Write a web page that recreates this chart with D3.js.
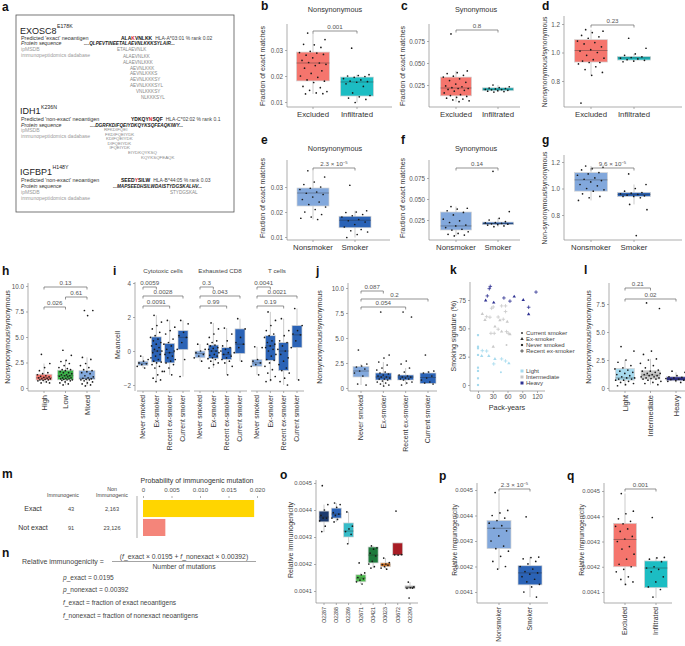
<!DOCTYPE html>
<html lang="en">
<head>
<meta charset="UTF-8">
<title>Neoantigen matches and immunogenicity</title>
<script src="https://d3js.org/d3.v7.min.js"></script>
<style>
  body { margin: 0; background: #fff; }
  svg { display: block; }
</style>
</head>
<body>
<svg id="fig" width="685" height="646"></svg>
<script>
// ---------- data ----------
// box stats are [lower whisker, q1, median, q3, upper whisker]
const tumourCats = ["Excluded", "Infiltrated"];
const smokeCats = ["Nonsmoker", "Smoker"];

const bStats = [[0.0131, 0.0181, 0.025, 0.0292, 0.0365], [0.0098, 0.0123, 0.0177, 0.0196, 0.0205]];
const bExcl = [0.0365, 0.034, 0.032, 0.0322, 0.031, 0.0295, 0.029, 0.0288, 0.028, 0.0283, 0.027, 0.026, 0.025, 0.0252, 0.0245, 0.024, 0.023, 0.022, 0.021, 0.020, 0.0195, 0.0185, 0.018, 0.0175, 0.016, 0.0155, 0.0145, 0.014, 0.0135, 0.0131, 0.0132];
const bInf = [0.0307, 0.0205, 0.0202, 0.0200, 0.0198, 0.0195, 0.019, 0.0185, 0.018, 0.0178, 0.0176, 0.017, 0.016, 0.0135, 0.0125, 0.012, 0.0115, 0.011, 0.0098];

const cStats = [[0.006, 0.0127, 0.0216, 0.034, 0.041], [0.017, 0.0185, 0.0203, 0.0218, 0.025]];
const cExcl = [0.083, 0.041, 0.039, 0.038, 0.036, 0.035, 0.034, 0.032, 0.030, 0.028, 0.026, 0.024, 0.023, 0.022, 0.021, 0.021, 0.020, 0.019, 0.018, 0.016, 0.014, 0.013, 0.012, 0.011, 0.010, 0.009, 0.008, 0.007, 0.006];
const cInf = [0.025, 0.023, 0.022, 0.0215, 0.021, 0.0205, 0.020, 0.0198, 0.0195, 0.019, 0.0185, 0.018, 0.0175, 0.017];

const dStats = [[0.84, 0.933, 1.014, 1.09, 1.16], [0.935, 0.947, 0.962, 0.972, 0.99]];
const dExcl = [1.16, 1.15, 1.14, 1.12, 1.11, 1.10, 1.08, 1.07, 1.06, 1.04, 1.02, 1.01, 1.00, 0.98, 0.96, 0.95, 0.94, 0.93, 0.93, 0.92, 0.90, 0.88, 0.86, 0.84, 0.645];
const dInf = [1.10, 1.03, 0.99, 0.98, 0.97, 0.965, 0.96, 0.955, 0.95, 0.945, 0.94, 0.935];

const eStats = [[0.017, 0.0224, 0.0276, 0.0296, 0.0365], [0.0098, 0.0137, 0.0167, 0.0183, 0.0205]];
const eNon = [0.0365, 0.034, 0.032, 0.031, 0.030, 0.0295, 0.029, 0.028, 0.0275, 0.027, 0.026, 0.025, 0.024, 0.023, 0.022, 0.021, 0.020, 0.019, 0.018, 0.0175, 0.017];
const eSmk = [0.0307, 0.0205, 0.020, 0.0198, 0.019, 0.0185, 0.018, 0.017, 0.0165, 0.016, 0.015, 0.014, 0.013, 0.0125, 0.012, 0.011, 0.0098];

const fStats = [[0.006, 0.0131, 0.0179, 0.0345, 0.041], [0.017, 0.0195, 0.0207, 0.0225, 0.027]];
const fNon = [0.041, 0.039, 0.038, 0.036, 0.034, 0.031, 0.026, 0.024, 0.022, 0.019, 0.018, 0.016, 0.014, 0.013, 0.011, 0.009, 0.008, 0.007, 0.006];
const fSmk = [0.083, 0.035, 0.027, 0.025, 0.023, 0.022, 0.0215, 0.021, 0.0205, 0.020, 0.0195, 0.019, 0.018, 0.017];

const gStats = [[0.91, 0.98, 1.065, 1.12, 1.17], [0.88, 0.94, 0.955, 0.97, 1.03]];
const gNon = [1.17, 1.16, 1.15, 1.14, 1.12, 1.11, 1.10, 1.08, 1.07, 1.06, 1.05, 1.03, 1.02, 1.00, 0.99, 0.98, 0.96, 0.94, 0.93, 0.91];
const gSmk = [1.11, 1.03, 1.00, 0.98, 0.97, 0.965, 0.96, 0.955, 0.95, 0.945, 0.94, 0.94, 0.93, 0.88, 0.84, 0.645];

const hCats = ["High", "Low", "Mixed"];
const hStats = [[0.5, 0.78, 1.0, 1.35, 2.4], [0.3, 0.8, 1.2, 1.75, 2.7], [0.2, 0.85, 0.95, 1.7, 3.0]];
const hHigh = [3.3, 2.4, 2.0, 1.7, 1.5, 1.4, 1.3, 1.2, 1.15, 1.1, 1.05, 1.0, 0.95, 0.9, 0.9, 0.85, 0.8, 0.8, 0.75, 0.7, 0.6, 0.5, 0.5];
const hLow = [3.7, 3.2, 2.7, 2.6, 2.4, 2.2, 2.0, 1.9, 1.8, 1.8, 1.7, 1.6, 1.5, 1.5, 1.4, 1.3, 1.3, 1.2, 1.2, 1.15, 1.1, 1.0, 1.0, 0.95, 0.9, 0.9, 0.85, 0.8, 0.8, 0.75, 0.7, 0.6, 0.5, 0.4, 0.3];
const hMix = [7.6, 7.6, 7.1, 3.0, 2.8, 2.4, 2.2, 2.0, 1.8, 1.7, 1.6, 1.5, 1.4, 1.2, 1.1, 1.0, 0.95, 0.9, 0.85, 0.8, 0.8, 0.7, 0.6, 0.5, 0.4, 0.3, 0.2];

const statusCats = ["Never smoked", "Ex-smoker", "Recent ex-smoker", "Current smoker"];
const iFacets = ["Cytotoxic cells", "Exhausted CD8", "T cells"];
const iStats = [
  [[-1.0, -0.85, -0.72, -0.6, -0.3], [-1.8, -0.65, 0.0, 0.83, 2.1], [-1.4, -0.7, -0.1, 0.45, 1.8], [-1.5, 0.08, 0.8, 1.2, 1.8]],
  [[-0.6, -0.4, -0.15, 0.0, 0.4], [-1.0, -0.45, 0.0, 0.35, 1.65], [-1.4, -0.5, -0.2, 0.2, 1.35], [-0.6, -0.15, 0.4, 1.3, 1.9]],
  [[-1.4, -0.9, -0.7, -0.5, 0.25], [-1.8, -0.55, 0.3, 0.9, 2.3], [-2.0, -1.15, 0.0, 0.5, 1.9], [-1.7, 0.2, 0.95, 1.5, 2.5]]
];
const iCyto = [
  [-0.3, -0.5, -0.6, -0.7, -0.75, -0.8, -0.9, -1.0],
  [2.1, 1.7, 1.5, 1.3, 1.1, 0.9, 0.8, 0.7, 0.6, 0.5, 0.4, 0.3, 0.2, 0.1, 0.0, 0.0, -0.1, -0.2, -0.3, -0.4, -0.5, -0.6, -0.65, -0.7, -0.8, -0.9, -1.0, -1.2, -1.4, -1.6, -1.7, -1.8],
  [1.8, 1.4, 1.2, 1.0, 0.7, 0.5, 0.4, 0.3, 0.1, 0.0, -0.1, -0.2, -0.3, -0.4, -0.5, -0.6, -0.7, -0.8, -1.0, -1.2, -1.4],
  [1.8, 1.6, 1.1, 0.9, 0.8, 0.5, 0.1, -0.5, -1.5]
];
const iExh = [
  [0.4, 0.1, 0.0, -0.1, -0.2, -0.3, -0.4, -0.6],
  [1.65, 1.3, 1.0, 0.8, 0.6, 0.5, 0.4, 0.35, 0.3, 0.2, 0.15, 0.1, 0.0, 0.0, -0.1, -0.2, -0.25, -0.3, -0.4, -0.45, -0.5, -0.6, -0.7, -0.8, -1.0],
  [1.35, 1.0, 0.6, 0.3, 0.2, 0.1, 0.0, -0.1, -0.2, -0.3, -0.4, -0.5, -0.6, -0.7, -0.9, -1.4],
  [1.9, 1.3, 0.8, 0.5, 0.4, 0.2, -0.1, -0.6]
];
const iTcell = [
  [0.25, 0.2, -0.5, -0.6, -0.7, -0.8, -0.9, -1.4],
  [2.3, 1.8, 1.5, 1.2, 1.0, 0.9, 0.8, 0.6, 0.5, 0.4, 0.3, 0.2, 0.1, 0.0, -0.2, -0.3, -0.5, -0.55, -0.7, -0.9, -1.1, -1.3, -1.5, -1.7, -1.8],
  [1.9, 1.2, 0.9, 0.6, 0.5, 0.3, 0.1, 0.0, -0.2, -0.4, -0.6, -0.8, -1.0, -1.15, -1.3, -1.6, -1.8, -2.0],
  [2.5, 1.5, 1.2, 1.0, 0.95, 0.6, 0.2, -1.7]
];
const iPvals = [["0.0059", "0.0028", "0.0091"], ["0.3", "0.043", "0.99"], ["0.0041", "0.0021", "0.19"]];

const jStats = [[0.3, 1.1, 1.7, 2.15, 2.4], [0.2, 0.8, 1.1, 1.5, 2.6], [0.3, 0.8, 1.1, 1.3, 2.0], [0.4, 0.45, 1.05, 1.5, 1.7]];
const jPts = [
  [3.8, 2.4, 2.2, 2.1, 1.9, 1.7, 1.5, 1.2, 0.4, 0.3],
  [7.6, 3.3, 3.0, 2.6, 2.3, 2.0, 1.8, 1.6, 1.5, 1.4, 1.3, 1.2, 1.1, 1.1, 1.0, 0.9, 0.9, 0.8, 0.7, 0.6, 0.5, 0.4, 0.3, 0.2],
  [7.6, 7.1, 2.7, 2.4, 2.0, 1.6, 1.3, 1.2, 1.1, 1.1, 1.0, 0.9, 0.9, 0.8, 0.6, 0.5, 0.3],
  [3.3, 1.7, 1.6, 1.5, 1.2, 1.0, 0.8, 0.6, 0.5, 0.4]
];

const levelCats = ["Light", "Intermediate", "Heavy"];
const kStatusCats = ["Current smoker", "Ex-smoker", "Never smoked", "Recent ex-smoker"];
const kPack = [23, 25, 19, 15.6, 52.7, 65, 73.7, 92, 118, 103, 103, 32,
  8.8, 17.6, 14.2, 24.3, 27.7, 31, 48, 56, 56, 41, 44.6, 51.4, 59.5, 34.5, 26.3, 33, 41, 48, 58, 61.5, 65, 58, 31,
  0, 0, 0, 0, 0, 0, 0, 0, 8.8, 17.6, 7.5, 22, 32, 34.5, 48, 56, 62.8, 46.6];
const kSig = [85, 87, 78.6, 74.5, 76.8, 74, 78, 75, 82, 68.6, 62.4, 72.7,
  62.7, 60.3, 57.4, 59.8, 67.7, 68.9, 69.8, 69.8, 64.8, 60, 57.1, 58, 55.9, 51.5, 45.6, 45.6, 49.2, 47.1, 47.1, 45.6, 44.8, 35.3, 33.8,
  44, 33.8, 32.4, 26.5, 15.3, 12.4, 5.9, 0, 30.3, 30, 25.6, 25.6, 18.6, 23, 23, 21.2, 19.1, 11.2];
const kLevel = [2, 2, 2, 2, 2, 2, 2, 2, 2, 2, 2, 2,
  1, 1, 1, 1, 1, 1, 1, 1, 1, 1, 1, 1, 1, 1, 1, 1, 1, 1, 1, 1, 1, 1, 1,
  0, 0, 0, 0, 0, 0, 0, 0, 0, 0, 0, 0, 0, 0, 0, 0, 0, 0];
const kStatus = [3, 3, 3, 1, 3, 3, 1, 1, 3, 3, 1, 1,
  1, 3, 1, 3, 3, 3, 3, 3, 3, 3, 1, 3, 1, 1, 3, 3, 3, 1, 3, 3, 1, 0, 1,
  2, 2, 2, 2, 2, 2, 2, 2, 3, 3, 1, 1, 3, 1, 3, 3, 1, 0];

const lStats = [[0.2, 0.7, 0.9, 1.75, 2.5], [0.3, 0.8, 1.15, 1.55, 2.6], [0.5, 0.65, 0.8, 1.0, 1.4]];
const lPts = [
  [3.7, 3.3, 2.5, 2.3, 2.0, 1.8, 1.7, 1.6, 1.5, 1.4, 1.3, 1.2, 1.1, 1.0, 0.9, 0.9, 0.8, 0.8, 0.7, 0.7, 0.6, 0.5, 0.4, 0.3, 0.2],
  [7.6, 7.1, 3.3, 3.0, 2.6, 2.5, 2.2, 2.0, 1.8, 1.6, 1.5, 1.5, 1.4, 1.3, 1.3, 1.2, 1.2, 1.1, 1.1, 1.0, 1.0, 0.9, 0.9, 0.85, 0.8, 0.8, 0.7, 0.6, 0.5, 0.4, 0.3],
  [1.5, 1.4, 1.1, 1.0, 0.95, 0.9, 0.85, 0.8, 0.75, 0.7, 0.65, 0.6, 0.5]
];

const mRows = ["Exact", "Not exact"];
const mImmuno = ["43", "91"];
const mNonImmuno = ["2,163", "23,126"];
const mProb = [0.0195, 0.00392];
const mTicks = [0, 0.005, 0.010, 0.015, 0.020];

const oCats = ["O2287", "O2288", "O2289", "O2671", "O3421", "O3023", "O3672", "O2290"];
const oStats = [
  [0.004318, 0.004356, 0.004374, 0.004396, 0.00442],
  [0.004356, 0.00437, 0.004385, 0.004407, 0.004426],
  [0.004274, 0.0043, 0.004322, 0.004352, 0.004393],
  [0.004126, 0.004134, 0.004148, 0.00416, 0.004167],
  [0.004185, 0.004204, 0.004233, 0.004263, 0.004267],
  [0.004181, 0.00419, 0.004197, 0.004204, 0.004222],
  [0.004233, 0.004233, 0.004235, 0.004278, 0.004278],
  [0.00411, 0.00411, 0.004112, 0.004119, 0.004133]
];
const oPts = [
  [0.00449, 0.00442, 0.00440, 0.00438, 0.00437, 0.00437, 0.00436, 0.00434, 0.00432],
  [0.004426, 0.00442, 0.00441, 0.00439, 0.004385, 0.00438, 0.00437, 0.004365, 0.004356],
  [0.004393, 0.00434, 0.00433, 0.00432, 0.00431, 0.004275],
  [0.004204, 0.004167, 0.00416, 0.00415, 0.004145, 0.00414, 0.004134, 0.004126],
  [0.004267, 0.00426, 0.004255, 0.00424, 0.00423, 0.00421, 0.0042, 0.00419, 0.004185],
  [0.004222, 0.004205, 0.0042, 0.004198, 0.004195, 0.00419, 0.004185, 0.004181],
  [0.004396, 0.004235, 0.004233, 0.004234],
  [0.004133, 0.004115, 0.004112, 0.00411, 0.004111, 0.004074]
];

const pStats = [[0.00419, 0.00427, 0.00435, 0.00438, 0.00449], [0.00408, 0.004128, 0.004175, 0.004203, 0.004237]];
const pNon = [0.00449, 0.00442, 0.00441, 0.00440, 0.00439, 0.00438, 0.00437, 0.00436, 0.00435, 0.00434, 0.00432, 0.0043, 0.00428, 0.00427, 0.00426, 0.00424, 0.00422, 0.0042, 0.00419];
const pSmk = [0.004395, 0.004237, 0.004235, 0.00423, 0.00422, 0.00421, 0.0042, 0.00419, 0.00418, 0.004175, 0.00417, 0.00416, 0.00415, 0.00414, 0.00413, 0.00412, 0.0041, 0.00408];

const qStats = [[0.00413, 0.0042, 0.004308, 0.004372, 0.00449], [0.004076, 0.004117, 0.004195, 0.004223, 0.004237]];
const qExc = [0.00449, 0.00442, 0.00441, 0.00439, 0.00438, 0.00437, 0.00436, 0.00435, 0.00434, 0.00432, 0.00431, 0.0043, 0.00428, 0.00427, 0.00425, 0.00423, 0.00421, 0.0042, 0.00419, 0.00418, 0.00416, 0.00415, 0.00414, 0.00413];
const qInf = [0.004395, 0.004237, 0.004235, 0.00423, 0.00422, 0.0042, 0.004195, 0.00419, 0.00418, 0.00416, 0.00414, 0.00412, 0.00411, 0.00408];

// ---------- drawing ----------
const FONT = "'Liberation Sans', Arial, sans-serif";
const AX = "#8a8a8a", TXT = "#555", DARK = "#333";
const RED = "#F5756D", TEAL = "#1CBDC3", LBLUE = "#82A8DC", BLUE = "#2B63B6";

const svg = d3.select("#fig").attr("font-family", FONT);
svg.append("rect").attr("width", 685).attr("height", 646).attr("fill", "#fff");

function txt(g, x, y, s, size, opt = {}) {
  return g.append("text").attr("x", x).attr("y", y).attr("font-size", size)
    .attr("fill", opt.fill || DARK).attr("text-anchor", opt.anchor || "start")
    .attr("font-weight", opt.weight || null).attr("font-style", opt.style || null)
    .text(s);
}

function pLabel(g, x, y, label) {
  const t = g.append("text").attr("x", x).attr("y", y).attr("font-size", 6.2)
    .attr("fill", TXT).attr("text-anchor", "middle");
  const parts = label.split("^");
  t.append("tspan").text(parts[0]);
  if (parts[1]) t.append("tspan").attr("dy", -2.5).attr("font-size", 4.2).text(parts[1]);
}

function bracket(g, x1, x2, yb, label) {
  g.append("path").attr("d", `M${x1},${yb + 2.5}V${yb}H${x2}V${yb + 2.5}`)
    .attr("fill", "none").attr("stroke", "#666").attr("stroke-width", 0.7);
  pLabel(g, (x1 + x2) / 2, yb - 1.6, label);
}

function yAxis(g, x0, y, ticks, fmt, fs) {
  g.append("g").attr("transform", `translate(${x0},0)`)
    .call(d3.axisLeft(y).tickValues(ticks).tickFormat(fmt).tickSize(2).tickPadding(2))
    .call(a => {
      a.select(".domain").remove();
      a.selectAll("line").attr("stroke", AX).attr("stroke-width", 0.7);
      a.selectAll("text").attr("font-size", fs).attr("fill", TXT).attr("font-family", FONT);
    });
}

function vLabel(g, x, y, s, size) {
  g.append("text").attr("transform", `translate(${x},${y}) rotate(-90)`)
    .attr("text-anchor", "middle").attr("font-size", size).attr("fill", DARK).text(s);
}

const golden = k => ((k * 0.618034 + 0.31) % 1) - 0.5;

function boxPanel(o) {
  const g = svg.append("g");
  const y = d3.scaleLinear().domain(o.dom).range(o.rng);
  const x = d3.scalePoint().domain(o.cats).range(o.xr);
  if (o.sx != null) {
    g.append("line").attr("x1", o.sx).attr("x2", o.sx).attr("y1", o.top).attr("y2", o.bot)
      .attr("stroke", AX).attr("stroke-width", 0.7);
    yAxis(g, o.sx, y, o.ticks, o.fmt, o.tfs || 6.3);
  }
  g.append("line").attr("x1", o.bl).attr("x2", o.br).attr("y1", o.bot).attr("y2", o.bot)
    .attr("stroke", AX).attr("stroke-width", 0.7);
  o.cats.forEach((c, i) => {
    const cx = x(c), [lo, q1, md, q3, hi] = o.stats[i], bw = o.bw;
    g.append("line").attr("x1", cx).attr("x2", cx).attr("y1", o.bot).attr("y2", o.bot + 2)
      .attr("stroke", AX).attr("stroke-width", 0.7);
    g.append("line").attr("x1", cx).attr("x2", cx).attr("y1", y(lo)).attr("y2", y(hi))
      .attr("stroke", "#b5b5b5").attr("stroke-width", 0.7);
    g.append("rect").attr("x", cx - bw / 2).attr("y", y(q3)).attr("width", bw)
      .attr("height", Math.max(1.2, y(q1) - y(q3))).attr("fill", o.colors[i])
      .attr("stroke", "#d4d4d4").attr("stroke-width", 0.7);
    g.append("line").attr("x1", cx - bw / 2).attr("x2", cx + bw / 2).attr("y1", y(md)).attr("y2", y(md))
      .attr("stroke", "rgba(40,40,40,0.45)").attr("stroke-width", 0.8);
    o.pts[i].forEach((v, k) => {
      g.append("circle").attr("cx", cx + golden(k) * bw * (o.jit || 0.85)).attr("cy", y(v))
        .attr("r", 0.85).attr("fill", "#1a1a1a");
    });
    if (o.rot) {
      g.append("text").attr("transform", `translate(${cx},${o.bot + 4}) rotate(-90)`)
        .attr("text-anchor", "end").attr("dy", "0.35em").attr("font-size", o.cfs)
        .attr("fill", DARK).text(c);
    } else {
      txt(g, cx, o.bot + 10, c, o.cfs, { anchor: "middle" });
    }
  });
  if (o.title) txt(g, o.title[1], o.title[2], o.title[0], 7.3, { anchor: "middle" });
  if (o.ylab) vLabel(g, o.ylab[1], o.ylab[2], o.ylab[0], o.yfs || 7);
  (o.pv || []).forEach(([a, b, lab, yb]) => bracket(g, x(o.cats[a]), x(o.cats[b]), yb, lab));
  return g;
}

// panel letters
[["a", 2, 11], ["b", 261, 10], ["c", 401, 10], ["d", 542, 10], ["e", 261, 144], ["f", 401, 144],
 ["g", 542, 144], ["h", 2, 275], ["i", 113, 275], ["j", 316, 275], ["k", 450, 274], ["l", 584, 274],
 ["m", 2, 478], ["n", 2, 557], ["o", 280, 479], ["p", 439, 480], ["q", 567, 480]]
  .forEach(([s, x, y]) => txt(svg, x, y, s, 12, { weight: "bold", fill: "#111" }));

// ---------- panel a ----------
const ga = svg.append("g");
ga.append("rect").attr("x", 16).attr("y", 15).attr("width", 218).attr("height", 197)
  .attr("fill", "none").attr("stroke", "#555").attr("stroke-width", 0.8);
function gene(name, sup, y) {
  const t = txt(ga, 20, y, name, 9, { fill: "#222" });
  const w = t.node().getComputedTextLength();
  txt(ga, 20 + w + 0.5, y - 5.3, sup, 5.2, { fill: "#222" });
}
// bold neoantigen with the mutated residue in red, then the HLA allele after it
function peptide(x, y, s, redIdx, hla) {
  const t = ga.append("text").attr("x", x).attr("y", y).attr("font-size", 5)
    .attr("font-weight", "bold").attr("fill", "#111");
  t.append("tspan").text(s.slice(0, redIdx));
  t.append("tspan").attr("fill", "#E0202A").text(s[redIdx]);
  t.append("tspan").text(s.slice(redIdx + 1));
  const w = t.node().getComputedTextLength();
  txt(ga, x + w + 3, y, hla, 5, { fill: "#444" });
}
const seqStyle = { weight: "bold", style: "italic", fill: "#222" };
const grey = { fill: "#9a9a9a" };
gene("EXOSC8", "E178K", 33.5);
txt(ga, 21, 40, "Predicted 'exact' neoantigen", 5.4);
peptide(121, 40, "ALAKVNLKK", 3, "HLA-A*03:01 % rank 0.02");
txt(ga, 21, 45, "Protein sequence", 5.2, { style: "italic" });
txt(ga, 84, 45, "....QLPEVTINEETALAEVNLKKKSYLAIR...", 4.7, seqStyle);
txt(ga, 21, 51, "ipMSDB", 5.1, grey);
txt(ga, 21, 57, "immunopeptidomics dadabase", 5.1, grey);
[[117, 51, "ETALAEVNLK"], [123, 57.5, "ALAEVNLKK"], [123, 64, "ALAEVNLKKK"], [130, 69.5, "AEVNLKKK"],
 [130, 75, "AEVNLKKKS"], [130, 81, "AEVNLKKKSY"], [130, 87, "AEVNLKKKSYL"], [136, 93, "VNLKKKSY"],
 [141, 99, "NLKKKSYL"]].forEach(([x, y, s]) => txt(ga, x, y, s, 4.6, { fill: "#888" }));

gene("IDH1", "K236N", 114);
txt(ga, 21, 121, "Predicted 'non-exact' neoantigen", 5.4);
peptide(131, 121, "YDKQYNSQF", 5, "HLA-C*02:02 % rank 0.1");
txt(ga, 21, 126.5, "Protein sequence", 5.2, { style: "italic" });
txt(ga, 90, 126.5, "....DGRFKDIFQEIYDKQYKSQFEAQKIWY...", 4.7, seqStyle);
txt(ga, 21, 132, "ipMSDB", 5.1, grey);
txt(ga, 21, 138, "immunopeptidomics dadabase", 5.1, grey);
[[104, 131, "RFKDIFQEI"], [105, 135.5, "FKDIFQEIYDK"], [106, 140, "KDIFQEIYDK"], [107.5, 144.5, "DIFQEIYDK"],
 [109.5, 149, "IFQEIYDK"], [128, 154, "EIYDKQYKSQ"], [141, 159, "KQYKSQFEAQK"]]
  .forEach(([x, y, s]) => txt(ga, x, y, s, 4.4, { fill: "#888" }));

gene("IGFBP1", "H148Y", 174.5);
txt(ga, 21, 182, "Predicted 'non-exact' neoantigen", 5.4);
peptide(121, 182, "SEEDYSILW", 4, "HLA-B*44:05 % rank 0.03");
txt(ga, 21, 187.5, "Protein sequence", 5.2, { style: "italic" });
txt(ga, 113, 187.5, "...MAPSEEDHSILWDAISTYDGSKALHV...", 4.7, seqStyle);
txt(ga, 21, 194, "ipMSDB", 5.1, grey);
txt(ga, 21, 200, "immunopeptidomics dadabase", 5.1, grey);
txt(ga, 170, 194, "STYDGSKAL", 4.6, { fill: "#888" });

// ---------- panels b-g ----------
const f3 = d3.format(".3f"), f2 = d3.format(".2f"), f1 = d3.format(".1f"), f4 = d3.format(".4f");
boxPanel({ cats: tumourCats, xr: [313, 357], bw: 33, dom: [0.01, 0.03], rng: [102, 50], sx: 287, top: 24, bot: 107,
  bl: 287, br: 392, ticks: [0.01, 0.02, 0.03], fmt: f2, stats: bStats, pts: [bExcl, bInf], colors: [RED, TEAL],
  cfs: 7.8, title: ["Nonsynonymous", 335, 12], ylab: ["Fraction of exact matches", 265, 66],
  pv: [[0, 1, "0.001", 31]] });
boxPanel({ cats: tumourCats, xr: [456, 498], bw: 31, dom: [0.025, 0.075], rng: [85, 41], sx: 429, top: 24, bot: 107,
  bl: 429, br: 520, ticks: [0.025, 0.05, 0.075], fmt: f3, stats: cStats, pts: [cExcl, cInf], colors: [RED, TEAL],
  cfs: 7.8, title: ["Synonymous", 476, 12], ylab: ["Fraction of exact matches", 405, 66],
  pv: [[0, 1, "0.8", 30]] });
boxPanel({ cats: tumourCats, xr: [591, 634], bw: 33, dom: [0.8, 1.2], rng: [81, 24], sx: 564, top: 16, bot: 107,
  bl: 564, br: 682, ticks: [0.8, 1.0, 1.2], fmt: f1, stats: dStats, pts: [dExcl, dInf], colors: [RED, TEAL],
  cfs: 7.8, ylab: ["Nonsynonymous/synonymous", 547, 62], yfs: 6.8, pv: [[0, 1, "0.23", 25]] });

boxPanel({ cats: smokeCats, xr: [313, 355], bw: 32, dom: [0.01, 0.03], rng: [237, 187], sx: 287, top: 160, bot: 240,
  bl: 287, br: 390, ticks: [0.01, 0.02, 0.03], fmt: f2, stats: eStats, pts: [eNon, eSmk], colors: [LBLUE, BLUE],
  cfs: 7.8, title: ["Nonsynonymous", 335, 151], ylab: ["Fraction of exact matches", 265, 198],
  pv: [[0, 1, "2.3 × 10^−5", 168]] });
boxPanel({ cats: smokeCats, xr: [456, 498], bw: 31, dom: [0.025, 0.075], rng: [220, 178], sx: 429, top: 160, bot: 240,
  bl: 429, br: 520, ticks: [0.025, 0.05, 0.075], fmt: f3, stats: fStats, pts: [fNon, fSmk], colors: [LBLUE, BLUE],
  cfs: 7.8, title: ["Synonymous", 476, 151], ylab: ["Fraction of exact matches", 405, 198],
  pv: [[0, 1, "0.14", 168]] });
boxPanel({ cats: smokeCats, xr: [591, 634], bw: 33, dom: [0.8, 1.2], rng: [215, 162], sx: 564, top: 155, bot: 240,
  bl: 564, br: 682, ticks: [0.8, 1.0, 1.2], fmt: f1, stats: gStats, pts: [gNon, gSmk], colors: [LBLUE, BLUE],
  cfs: 7.8, ylab: ["Non-synonymous/synonymous", 547, 198], yfs: 6.8, pv: [[0, 1, "9.6 × 10^−5", 168]] });

// ---------- panel h ----------
boxPanel({ cats: hCats, xr: [44, 87], bw: 16, dom: [0, 10], rng: [388, 286], sx: 28, top: 283, bot: 391,
  bl: 28, br: 100, ticks: [0, 2.5, 5, 7.5, 10], fmt: d => d === 0 ? "0" : f1(d), stats: hStats,
  pts: [hHigh, hLow, hMix], colors: [RED, "#3BB44A", LBLUE], cfs: 7.5, rot: true,
  ylab: ["Nonsynonymous/synonymous", 10, 337], pv: [[0, 2, "0.13", 287], [1, 2, "0.61", 297], [0, 1, "0.026", 307]] });

// ---------- panel i ----------
iFacets.forEach((name, f) => {
  const off = f * 57;
  const g = boxPanel({ cats: statusCats, xr: [143 + off, 183 + off], bw: 10, dom: [0, 2], rng: [351, 317],
    sx: f === 0 ? 135 : null, top: 282, bot: 391, bl: 137 + off, br: 190 + off, ticks: [-2, 0, 2, 4],
    fmt: d3.format("d"), stats: iStats[f], pts: [iCyto, iExh, iTcell][f], colors: [LBLUE, BLUE, BLUE, BLUE],
    cfs: 6.8, rot: true, jit: 1.2,
    pv: [[0, 1, iPvals[f][0], 287], [0, 3, iPvals[f][1], 296], [0, 2, iPvals[f][2], 306]] });
  txt(g, 163 + off, 273, name, 6.2, { anchor: "middle", fill: "#444" });
});
vLabel(svg, 120, 345, "Meancell", 7);

// ---------- panel j ----------
boxPanel({ cats: statusCats, xr: [361, 428], bw: 16, dom: [0, 10], rng: [388, 288], sx: 348, top: 283, bot: 391,
  bl: 348, br: 437, ticks: [0, 2.5, 5, 7.5, 10], fmt: d => d === 0 ? "0" : f1(d), stats: jStats, pts: jPts,
  colors: [LBLUE, BLUE, BLUE, BLUE], cfs: 7, rot: true, ylab: ["Nonsynonymous/synonymous", 322, 337],
  pv: [[0, 1, "0.087", 291], [0, 3, "0.2", 299], [0, 2, "0.054", 307]] });

// ---------- panel k ----------
const gk = svg.append("g");
const kx = d3.scaleLinear().domain([0, 120]).range([478, 537]);
const ky = d3.scaleLinear().domain([0, 75]).range([385, 300]);
const levelColor = d3.scaleOrdinal().domain([0, 1, 2]).range(["#A6DAEE", "#C9C9C9", "#2E3192"]);
const plusSym = { draw(ctx, size) { const r = Math.sqrt(size) / 2; ctx.moveTo(-r, 0); ctx.lineTo(r, 0); ctx.moveTo(0, -r); ctx.lineTo(0, r); } };
const shapes = [d3.symbolCircle, d3.symbolTriangle, d3.symbolSquare, plusSym];
const shapeSize = [3, 5, 4.5, 13];
gk.append("line").attr("x1", 470).attr("x2", 470).attr("y1", 282).attr("y2", 391).attr("stroke", AX).attr("stroke-width", 0.7);
gk.append("line").attr("x1", 470).attr("x2", 545).attr("y1", 391).attr("y2", 391).attr("stroke", AX).attr("stroke-width", 0.7);
yAxis(gk, 470, ky, [0, 25, 50, 75], d3.format("d"), 6.3);
gk.append("g").attr("transform", "translate(0,391)")
  .call(d3.axisBottom(kx).tickValues([0, 30, 60, 90, 120]).tickSize(2).tickPadding(2))
  .call(a => {
    a.select(".domain").remove();
    a.selectAll("line").attr("stroke", AX).attr("stroke-width", 0.7);
    a.selectAll("text").attr("font-size", 6.3).attr("fill", TXT).attr("font-family", FONT);
  });
function drawSym(g, x, y, s, col) {
  const p = g.append("path").attr("transform", `translate(${x},${y})`)
    .attr("d", d3.symbol().type(shapes[s]).size(shapeSize[s])());
  if (s === 3) p.attr("fill", "none").attr("stroke", col).attr("stroke-width", 0.8);
  else p.attr("fill", col);
}
kPack.forEach((v, i) => drawSym(gk, kx(v), ky(kSig[i]), kStatus[i], levelColor(kLevel[i])));
vLabel(gk, 456, 336, "Smoking signature (%)", 7);
txt(gk, 507, 410, "Pack-years", 7.3, { anchor: "middle" });
kStatusCats.forEach((s, i) => {
  drawSym(gk, 522, 333 + i * 6, i, "#333");
  txt(gk, 526, 335 + i * 6, s, 6, { fill: "#444" });
});
levelCats.forEach((s, i) => {
  gk.append("rect").attr("x", 520.5).attr("y", 369.5 + i * 6).attr("width", 3).attr("height", 3).attr("fill", levelColor(i));
  txt(gk, 526, 373 + i * 6, s, 6, { fill: "#444" });
});

// ---------- panel l ----------
boxPanel({ cats: levelCats, xr: [625, 676], bw: 19, dom: [0, 7.5], rng: [388, 304], sx: 609, top: 283, bot: 391,
  bl: 609, br: 685, ticks: [0, 2.5, 5, 7.5], fmt: d => d === 0 ? "0" : f1(d), stats: lStats, pts: lPts,
  colors: ["#A6DAEE", "#C9C9C9", "#2E3192"], cfs: 7.5, rot: true, jit: 1.1,
  ylab: ["Nonsynonymous/synonymous", 591, 337], pv: [[0, 1, "0.21", 288], [0, 2, "0.02", 299]] });

// ---------- panel m ----------
const gm = svg.append("g");
const mx = d3.scaleLinear().domain([0, 0.02]).range([143, 257]);
const my = d3.scaleBand().domain(mRows).range([500, 536]).paddingInner(0.1);
txt(gm, 63, 497, "Immunogenic", 5.3, { anchor: "middle", fill: "#444" });
txt(gm, 112, 491, "Non", 5.3, { anchor: "middle", fill: "#444" });
txt(gm, 112, 497, "Immunogenic", 5.3, { anchor: "middle", fill: "#444" });
mRows.forEach((r, i) => {
  const cy = my(r) + my.bandwidth() / 2 + 2.5;
  txt(gm, 33, cy, r, 7, { anchor: "middle" });
  txt(gm, 71, cy, mImmuno[i], 5.6, { anchor: "middle", fill: "#444" });
  txt(gm, 112, cy, mNonImmuno[i], 5.6, { anchor: "middle", fill: "#444" });
  gm.append("rect").attr("x", mx(0)).attr("y", my(r)).attr("width", mx(mProb[i]) - mx(0))
    .attr("height", my.bandwidth()).attr("fill", ["#FFD500", "#F4857A"][i]);
});
gm.append("line").attr("x1", 137).attr("x2", 137).attr("y1", 496).attr("y2", 538).attr("stroke", AX).attr("stroke-width", 0.7);
gm.append("g").attr("transform", "translate(0,496)")
  .call(d3.axisTop(mx).tickValues(mTicks).tickFormat(d => d === 0 ? "0" : f3(d)).tickSize(-2).tickPadding(4))
  .call(a => {
    a.select(".domain").remove();
    a.selectAll("line").attr("stroke", AX).attr("stroke-width", 0.7);
    a.selectAll("text").attr("font-size", 6.2).attr("fill", TXT).attr("font-family", FONT);
  });
txt(gm, 197, 483, "Probability of immunogenic mutation", 7, { anchor: "middle" });

// ---------- panel n ----------
const gn = svg.append("g").attr("fill", DARK);
txt(gn, 22, 564, "Relative immunogenicity =", 7, { fill: "#444" });
const num = gn.append("text").attr("x", 184).attr("y", 558.5).attr("font-size", 6.8).attr("text-anchor", "middle").attr("fill", "#444");
num.append("tspan").text("(");
num.append("tspan").attr("font-style", "italic").text("f");
num.append("tspan").text("_exact × 0.0195 + ");
num.append("tspan").attr("font-style", "italic").text("f");
num.append("tspan").text("_nonexact × 0.00392)");
gn.append("line").attr("x1", 112).attr("x2", 256).attr("y1", 561.5).attr("y2", 561.5).attr("stroke", "#666").attr("stroke-width", 0.6);
txt(gn, 184, 569, "Number of mutations", 6.8, { anchor: "middle", fill: "#444" });
function defLine(y, v, rest) {
  const t = gn.append("text").attr("x", 63).attr("y", y).attr("font-size", 6.6).attr("fill", "#444");
  t.append("tspan").attr("font-style", "italic").text(v);
  t.append("tspan").text(rest);
}
defLine(580, "p", "_exact = 0.0195");
defLine(591.5, "p", "_nonexact = 0.00392");
defLine(605, "f", "_exact = fraction of exact neoantigens");
defLine(618, "f", "_nonexact = fraction of nonexact neoantigens");

// ---------- panel o ----------
boxPanel({ cats: oCats, xr: [324, 410], bw: 10, dom: [0.0041, 0.0044], rng: [591, 510], sx: 316, top: 480, bot: 603,
  bl: 316, br: 418, ticks: [0.0041, 0.0042, 0.0043, 0.0044, 0.0045], fmt: f4, tfs: 5.8, stats: oStats, pts: oPts,
  colors: ["#1C3A6E", "#2B63B6", "#37BCC8", "#4DBA4D", "#1E7A3B", "#E07A27", "#A81D25", "#8f8f8f"],
  cfs: 5.3, rot: true, jit: 0.9, ylab: ["Relative immunogenicity", 293, 540] });

// ---------- panels p, q ----------
boxPanel({ cats: smokeCats, xr: [499, 530], bw: 24, dom: [0.0041, 0.0045], rng: [592, 490], sx: 477, top: 483, bot: 603,
  bl: 477, br: 548, ticks: [0.0041, 0.0042, 0.0043, 0.0044, 0.0045], fmt: f4, tfs: 5.8, stats: pStats, pts: [pNon, pSmk],
  colors: [LBLUE, BLUE], cfs: 6.8, rot: true, ylab: ["Relative immunogenicity", 457, 540], yfs: 6.6,
  pv: [[0, 1, "2.3 × 10^−5", 489]] });
boxPanel({ cats: tumourCats, xr: [625, 656], bw: 23, dom: [0.0041, 0.0045], rng: [592, 491], sx: 604, top: 483, bot: 603,
  bl: 604, br: 672, ticks: [0.0041, 0.0042, 0.0043, 0.0044, 0.0045], fmt: f4, tfs: 5.8, stats: qStats, pts: [qExc, qInf],
  colors: [RED, TEAL], cfs: 6.8, rot: true, ylab: ["Relative immunogenicity", 584, 540], yfs: 6.6,
  pv: [[0, 1, "0.001", 489]] });
</script>
</body>
</html>
